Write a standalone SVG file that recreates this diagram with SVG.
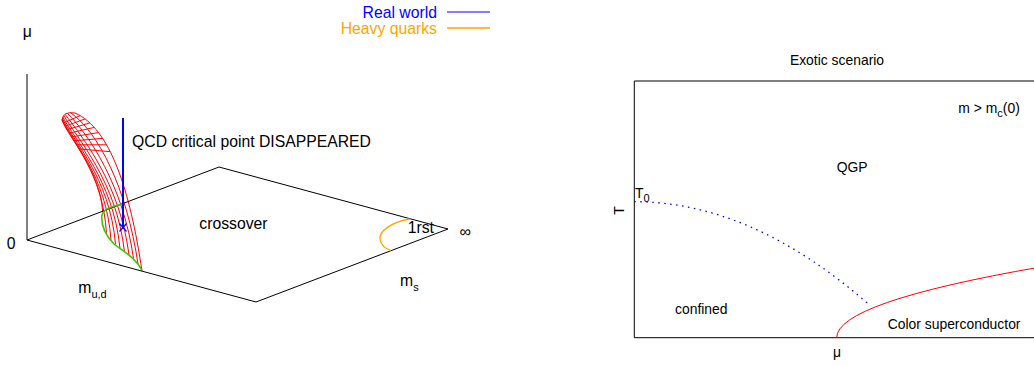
<svg xmlns="http://www.w3.org/2000/svg" width="1034" height="365" viewBox="0 0 1034 365">
<style>
text{font-family:"Liberation Sans",Arial,sans-serif;fill:#000}
.l{font-size:15.75px}
.r{font-size:13.9px}
.sub{font-size:11px}
.k{stroke:#000;stroke-width:1;fill:none}
.red{stroke:#ff0000;stroke-width:1;fill:none}
.blue{stroke:#0000ff;fill:none}
.org{stroke:#ffa500;stroke-width:1.3;fill:none}
.grn{stroke:#33cc00;stroke-width:1.6;fill:none}
</style>
<rect width="1034" height="365" fill="#fff"/>

<g id="legend">
<text class="l" x="437" y="18" text-anchor="end" style="fill:#0000ff">Real world</text>
<line x1="447" y1="12" x2="490" y2="12" class="blue" stroke-width="1.2"/>
<text class="l" x="437" y="34" text-anchor="end" style="fill:#ffa500">Heavy quarks</text>
<line x1="447" y1="28" x2="490" y2="28" class="org"/>
</g>

<g id="surface">
<path class="red" d="M62,120 Q63,111 75,113"/>
<path class="red" d="M62,120 C70,140 100,170 102.7,212"/>
<path class="red" d="M62,119.8 C70.05,140 103.3,172.2 106.5,234"/>
<path class="red" d="M62.1,119.1 C70.4,139.9 106.7,174.4 111,240.5"/>
<path class="red" d="M62.3,118.1 C71.5,139.6 110,176.7 115.5,244.5"/>
<path class="red" d="M62.8,116.9 C73.5,138.9 113.3,178.9 120,248.5"/>
<path class="red" d="M63.7,115.5 C76.8,137.9 116.7,181.1 124.5,252"/>
<path class="red" d="M65,114.2 C81.8,136.4 120,183.3 129,255"/>
<path class="red" d="M67.2,113.1 C88.8,134.4 123.3,185.6 133.5,258.5"/>
<path class="red" d="M70.4,112.6 C98.1,131.6 126.7,187.8 138,264"/>
<path class="red" d="M75,113 C110,128 130,190 142,271"/>
<path class="red" d="M63.4,123.1 L80.1,115.6 M65,126.3 L85.1,118.9 M66.9,129.7 L89.8,122.9 M69,133.2 L94.3,127.4 M71.4,136.9 L98.6,132.6 M73.8,140.8 L102.6,138.4 M76.4,144.8 L106.5,144.8 M79,148.9 L110.3,151.7"/>
</g>

<g id="left-axes">
<line class="k" x1="27" y1="74" x2="27" y2="240"/>
<path class="k" d="M27,240 L219,167 L448,229 L256,302 Z"/>
<text class="l" x="22.7" y="37">μ</text>
<text class="l" x="6.7" y="249">0</text>
<text class="l" x="78.3" y="292.7">m<tspan class="sub" dy="5">u,d</tspan></text>
<text class="l" x="400" y="286">m<tspan class="sub" dy="4.5">s</tspan></text>
<text class="l" x="459.5" y="237">∞</text>
<text class="l" x="199.3" y="229">crossover</text>
</g>

<g id="first-order">
<path class="org" d="M410,219 C392,222 379,231 380,239 C381,245 386,249 391,250.5"/>
<text class="l" x="407.7" y="233.3">1rst</text>
</g>

<g id="green-line">
<path class="grn" d="M122.7,204.3 C112,206 102,209 101.7,217 C101.5,228 106,236 114,244 C124,252 136,258 141.7,270"/>
</g>

<g id="real-world">
<line class="blue" x1="123" y1="118" x2="123" y2="227.5" stroke-width="2"/>
<path class="blue" stroke-width="1.3" d="M119.5,223.5 L126.5,231.5 M126.5,223.5 L119.5,231.5"/>
<text class="l" x="132" y="146.5">QCD critical point DISAPPEARED</text>
</g>

<g id="exotic-plot">
<text class="r" x="837" y="65" text-anchor="middle">Exotic scenario</text>
<path class="k" d="M1040,81 L634.3,81 L634.3,337.7 L1040,337.7"/>
<text class="r" x="958.3" y="113.3">m &gt; m<tspan class="sub" dy="4">c</tspan><tspan dy="-4">(0)</tspan></text>
<text class="r" x="836.7" y="171.7">QGP</text>
<text class="r" x="635" y="198.3">T<tspan class="sub" dy="3.4">0</tspan></text>
<text class="r" transform="translate(624,210.5) rotate(-90)" text-anchor="middle">T</text>
<text class="r" x="837" y="357" text-anchor="middle">μ</text>
<text class="r" x="675" y="314.3">confined</text>
<text class="r" x="887.7" y="329">Color superconductor</text>
</g>

<g id="connectors">
<path class="blue" stroke-width="1.3" stroke-dasharray="1.5 4.5" d="M634.3,201.7 Q752.5,201.7 870.7,306"/>
<path class="red" stroke-width="1.2" d="M836.7,337.7 Q836.7,302.4 1040,267.1"/>
</g>
</svg>
